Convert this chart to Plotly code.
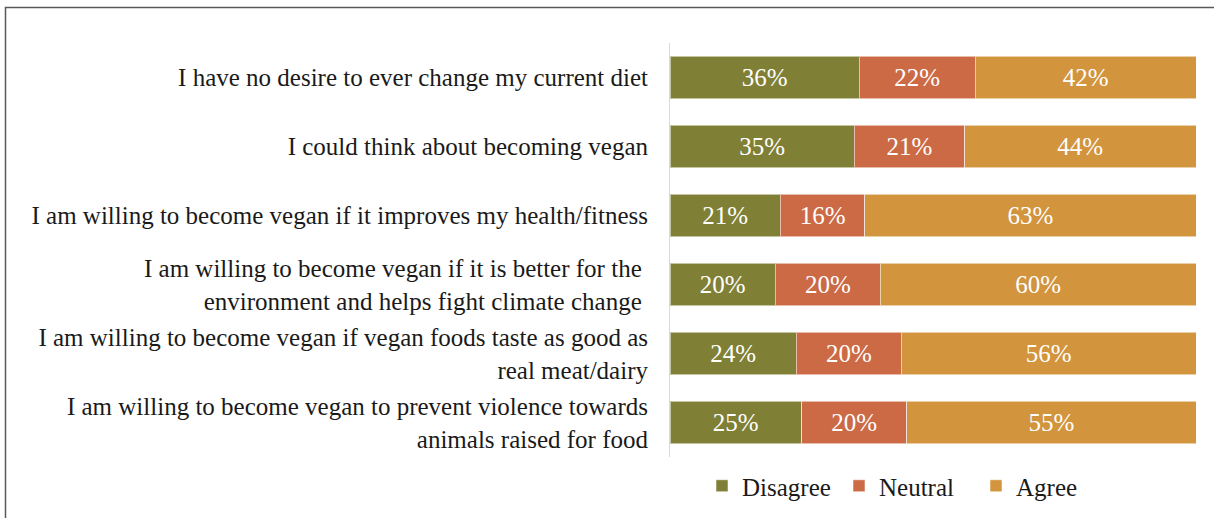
import plotly.graph_objects as go

# Survey statements (top to bottom) and the share of responses per answer
statements = [
    "I have no desire to ever change my current diet",
    "I could think about becoming vegan",
    "I am willing to become vegan if it improves my health/fitness",
    "I am willing to become vegan if it is better for the\u00a0<br>environment and helps fight climate change\u00a0",
    "I am willing to become vegan if vegan foods taste as good as<br>real meat/dairy",
    "I am willing to become vegan to prevent violence towards<br>animals raised for food",
]
disagree = [36, 35, 21, 20, 24, 25]
neutral = [22, 21, 16, 20, 20, 20]
agree = [42, 44, 63, 60, 56, 55]

series = [
    ("Disagree", disagree, "#7F7F35"),
    ("Neutral", neutral, "#CC6A45"),
    ("Agree", agree, "#D2943C"),
]

FONT = "Liberation Serif"
FS = 25

fig = go.Figure()
for name, vals, color in series:
    fig.add_trace(go.Bar(
        name=name,
        y=statements,
        x=vals,
        orientation="h",
        marker=dict(color=color, line=dict(color="rgba(255,255,255,0.55)", width=1)),
        texttemplate="%{x}%",
        textposition="inside",
        insidetextanchor="middle",
        textangle=0,
        constraintext="none",
        textfont=dict(family=FONT, size=FS, color="white"),
        hoverinfo="skip",
    ))

W, H = 1214, 518
L, R, T, B = 670, 18, 43, 61
pw, ph = W - L - R, H - T - B

def px_x(p):
    return (p - L) / pw

def px_y(p):
    return (H - B - p) / ph

fig.update_layout(
    width=W,
    height=H,
    margin=dict(l=L, r=R, t=T, b=B, pad=0, autoexpand=False),
    barmode="stack",
    bargap=0.39,
    paper_bgcolor="white",
    plot_bgcolor="white",
    font=dict(family=FONT, size=FS, color="#1a1a1a"),
    showlegend=True,
    legend=dict(
        orientation="h",
        x=px_x(702),
        xanchor="left",
        y=px_y(463),
        yanchor="top",
        font=dict(family=FONT, size=FS, color="#1a1a1a"),
        itemwidth=30,
        entrywidth=92,
        entrywidthmode="pixels",
        traceorder="normal",
    ),
    xaxis=dict(
        range=[0, 100],
        visible=False,
        fixedrange=True,
    ),
    yaxis=dict(
        autorange=False,
        range=[5.5, -0.5],
        showline=True,
        linecolor="#D9D9D9",
        linewidth=1,
        showgrid=False,
        ticks="",
        ticklabelstandoff=16,
        tickfont=dict(family=FONT, size=FS, color="#1a1a1a"),
    ),
    shapes=[
        dict(
            type="path",
            xref="paper",
            yref="paper",
            path=f"M {px_x(5.5)} {px_y(530)} L {px_x(5.5)} {px_y(7.5)} L {px_x(1230)} {px_y(7.5)}",
            line=dict(color="#595959", width=1.5),
        )
    ],
)

fig.write_html("out.html")
